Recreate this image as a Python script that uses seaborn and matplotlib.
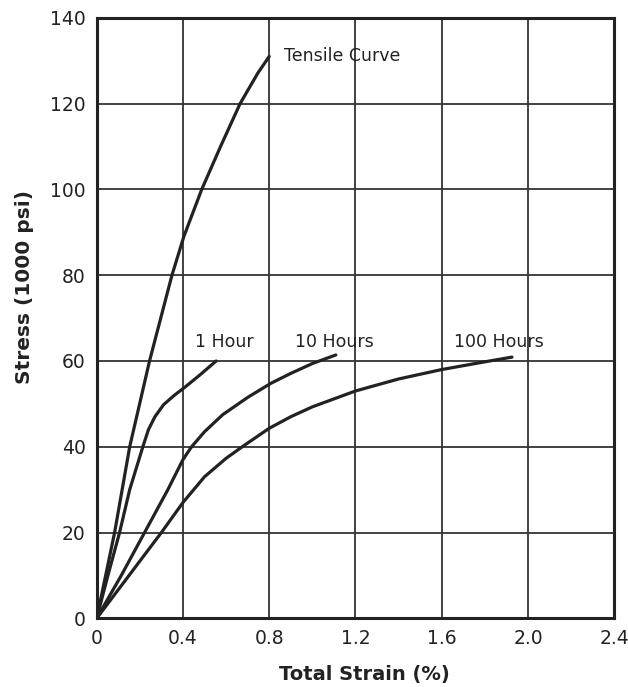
import matplotlib
matplotlib.use("Agg")
import matplotlib.pyplot as plt
import seaborn as sns
import pandas as pd

# Data
tensile_strain = [0, 0.083, 0.153, 0.245, 0.297, 0.349, 0.404, 0.487, 0.577, 0.665, 0.747, 0.80]
tensile_stress = [0, 20, 40, 60, 70, 80, 89, 100, 110.3, 120, 127.1, 131]

h1_strain = [0, 0.052, 0.106, 0.153, 0.214, 0.24, 0.27, 0.31, 0.36, 0.407, 0.48, 0.554]
h1_stress = [0, 10, 20, 30, 40, 44, 47, 49.8, 52, 53.8, 56.8, 60]

h10_strain = [0, 0.114, 0.222, 0.33, 0.40, 0.44, 0.50, 0.585, 0.70, 0.808, 0.90, 1.0, 1.109]
h10_stress = [0, 10, 20, 30, 37, 40, 43.5, 47.5, 51.5, 54.8, 57.1, 59.4, 61.4]

h100_strain = [0, 0.15, 0.30, 0.40, 0.50, 0.60, 0.675, 0.80, 0.90, 1.0,
               1.2, 1.4, 1.6, 1.8, 1.926]
h100_stress = [0, 10, 20, 27, 33, 37.3, 40, 44.3, 47, 49.3,
               53.0, 55.8, 58.0, 59.8, 60.9]

x_ticks = [0, 0.4, 0.8, 1.2, 1.6, 2.0, 2.4]
x_tick_labels = ["0", "0.4", "0.8", "1.2", "1.6", "2.0", "2.4"]
y_ticks = [0, 20, 40, 60, 80, 100, 120, 140]
y_tick_labels = ["0", "20", "40", "60", "80", "100", "120", "140"]

curve_labels = ["Tensile Curve", "1 Hour", "10 Hours", "100 Hours"]

sns.set_theme(style="white")
plt.rcParams['font.family'] = ['DejaVu Sans']

fig = plt.figure(figsize=(6.28, 6.87), dpi=100)
ax = fig.add_axes([0.154, 0.100, 0.824, 0.874])

ink = "#222222"
series = [(tensile_strain, tensile_stress), (h1_strain, h1_stress),
          (h10_strain, h10_stress), (h100_strain, h100_stress)]
for (xs, ys) in series:
    df = pd.DataFrame({"strain": xs, "stress": ys})
    sns.lineplot(data=df, x="strain", y="stress", ax=ax, color=ink,
                 linewidth=2.3, estimator=None, sort=False,
                 solid_joinstyle="round", solid_capstyle="round")

ax.set_xlim(0, 2.4)
ax.set_ylim(0, 140)
ax.set_xticks(x_ticks)
ax.set_xticklabels(x_tick_labels)
ax.set_yticks(y_ticks)
ax.set_yticklabels(y_tick_labels)
ax.tick_params(axis="both", length=0, labelsize=13.5, colors=ink, pad=8)
ax.grid(True, color="#333333", linewidth=1.3)
ax.set_axisbelow(True)
for sp in ax.spines.values():
    sp.set_color(ink)
    sp.set_linewidth(2.2)

ax.set_xlabel("Total Strain (%)", fontsize=14, fontweight="bold", color=ink)
ax.set_ylabel("Stress (1000 psi)", fontsize=14.5, fontweight="bold", color=ink)
ax.xaxis.set_label_coords(0.518, -0.078)
ax.yaxis.set_label_coords(-0.122, 0.5525)

lab_kw = dict(fontsize=12.5, color=ink)
ax.text(0.87, 131, curve_labels[0], ha="left", va="center", **lab_kw)
ax.text(0.59, 64.5, curve_labels[1], ha="center", va="center", **lab_kw)
ax.text(1.10, 64.5, curve_labels[2], ha="center", va="center", **lab_kw)
ax.text(1.866, 64.5, curve_labels[3], ha="center", va="center", **lab_kw)

fig.savefig("out.png", dpi=100)
